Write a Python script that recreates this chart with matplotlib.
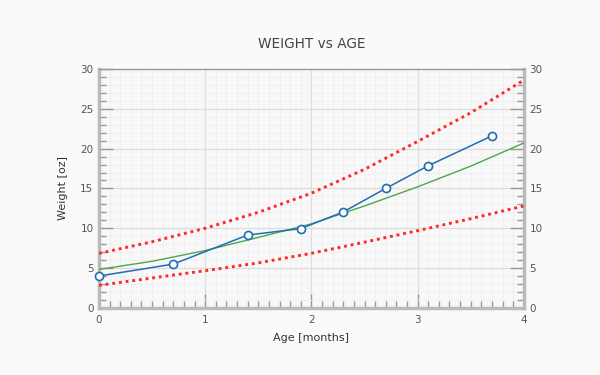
import matplotlib
matplotlib.use("Agg")
import matplotlib.pyplot as plt
from matplotlib.ticker import MultipleLocator

# Data
age = [0.0, 0.7, 1.4, 1.9, 2.3, 2.7, 3.1, 3.7]
weight = [4.0, 5.5, 9.15, 9.95, 12.05, 15.0, 17.85, 21.6]

curve_x = [0.0, 0.5, 1.0, 1.5, 2.0, 2.5, 3.0, 3.5, 4.0]
fit_y = [4.83, 5.85, 7.2, 8.85, 10.55, 12.8, 15.2, 17.8, 20.7]
upper_y = [6.85, 8.3, 10.0, 12.0, 14.4, 17.4, 20.9, 24.5, 28.6]
lower_y = [2.83, 3.75, 4.67, 5.65, 6.85, 8.25, 9.7, 11.2, 12.8]

title = "WEIGHT vs AGE"
xlabel = "Age [months]"
ylabel = "Weight [oz]"

plt.rcParams['font.family'] = ['DejaVu Sans']

fig = plt.figure(figsize=(6, 3.75), dpi=100, facecolor="#fafafa")
ax = fig.add_axes([0.165, 0.179, 0.708, 0.637], facecolor="#f8f8f8")

ax.plot(curve_x, upper_y, color="#ff2a2a", lw=2.1, ls=(0, (1, 1.3)), zorder=3)
ax.plot(curve_x, lower_y, color="#ff2a2a", lw=2.1, ls=(0, (1, 1.3)), zorder=3)
ax.plot(curve_x, fit_y, color="#4aa84a", lw=1.0, zorder=4)
ax.plot(age, weight, color="#1f6db5", lw=1.1, marker="o", ms=5.8,
        mfc="white", mec="#1f6db5", mew=1.2, zorder=5, clip_on=False)

ax.set_xlim(0, 4)
ax.set_ylim(0, 30)
ax.xaxis.set_major_locator(MultipleLocator(1))
ax.xaxis.set_minor_locator(MultipleLocator(0.1))
ax.yaxis.set_major_locator(MultipleLocator(5))
ax.yaxis.set_minor_locator(MultipleLocator(1))

ax.grid(which="major", color="#dcdcdc", lw=0.9, zorder=0)
ax.grid(which="minor", color="#efefef", lw=0.6, zorder=0)
ax.set_axisbelow(True)

ax.tick_params(which="both", direction="in", colors="#999999",
               labelcolor="#555555", labelsize=7.5, width=1.0)
ax.tick_params(which="major", length=10)
ax.tick_params(which="minor", length=5)
ax.tick_params(axis="y", which="both", left=True, right=True,
               labelleft=True, labelright=True, pad=4)
ax.tick_params(axis="x", which="both", top=False, bottom=True, pad=5)

for side in ["left", "bottom", "right"]:
    ax.spines[side].set_color("#bbbbbb")
    ax.spines[side].set_linewidth(2.5)
ax.spines["top"].set_color("#999999")
ax.spines["top"].set_linewidth(1.0)

ax.set_xlabel(xlabel, fontsize=8, color="#333333", labelpad=6)
ax.set_ylabel(ylabel, fontsize=8, color="#333333", labelpad=9)
ax.set_title(title, fontsize=9.8, color="#444444", pad=15)

fig.savefig("out.png", dpi=100, facecolor=fig.get_facecolor())
